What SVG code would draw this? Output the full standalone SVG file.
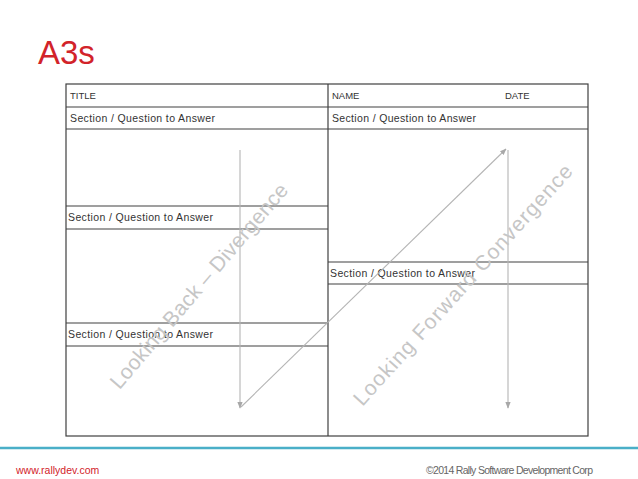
<svg xmlns="http://www.w3.org/2000/svg" width="638" height="479" viewBox="0 0 638 479">
<style>
.frame{fill:none;stroke:#404040;stroke-width:1.2}
.lbl{font-family:"Liberation Sans",Arial,sans-serif;font-size:10.5px;fill:#333}
.cap{font-family:"Liberation Sans",Arial,sans-serif;font-size:9.5px;fill:#333}
.conn{fill:none;stroke:#b4b4b4;stroke-width:1.1}
.rot{font-family:"Liberation Sans",Arial,sans-serif;font-size:21px;fill:#c6c6c6}
</style>
<defs>
<marker id="ah" viewBox="0 0 10 10" refX="9" refY="5" markerWidth="6" markerHeight="6" orient="auto">
<path d="M0,1 L10,5 L0,9 z" fill="#a8a8a8"/>
</marker>
</defs>
<rect width="638" height="479" fill="#ffffff"/>
<text x="38" y="64" font-family="Liberation Sans,Arial,sans-serif" font-size="33" fill="#d2232a">A3s</text>

<g id="sheet">
<rect class="frame" x="66" y="84" width="522" height="352"/>
<line class="frame" x1="328" y1="84" x2="328" y2="436"/>
<line class="frame" x1="66" y1="107" x2="588" y2="107"/>
<line class="frame" x1="66" y1="129" x2="588" y2="129"/>
</g>
<g id="title-row">
<text class="cap" x="70" y="99">TITLE</text>
<text class="cap" x="332" y="99">NAME</text>
<text class="cap" x="505" y="99">DATE</text>
</g>
<g id="section-left-1">
<text class="lbl" x="70" y="122" textLength="145">Section / Question to Answer</text>
</g>
<g id="section-right-1">
<text class="lbl" x="332" y="122" textLength="144">Section / Question to Answer</text>
</g>
<g id="section-left-2">
<line class="frame" x1="66" y1="206" x2="328" y2="206"/>
<line class="frame" x1="66" y1="229" x2="328" y2="229"/>
<text class="lbl" x="68" y="221" textLength="145">Section / Question to Answer</text>
</g>
<g id="section-left-3">
<line class="frame" x1="66" y1="323" x2="328" y2="323"/>
<line class="frame" x1="66" y1="346" x2="328" y2="346"/>
<text class="lbl" x="68" y="338" textLength="145">Section / Question to Answer</text>
</g>
<g id="section-right-2">
<line class="frame" x1="328" y1="262" x2="588" y2="262"/>
<line class="frame" x1="328" y1="284" x2="588" y2="284"/>
<text class="lbl" x="330" y="277" textLength="145">Section / Question to Answer</text>
</g>

<g id="connectors">
<line class="conn" x1="240" y1="150" x2="240" y2="408" marker-end="url(#ah)"/>
<line class="conn" x1="241" y1="407" x2="506" y2="149" marker-end="url(#ah)"/>
<line class="conn" x1="508" y1="150" x2="508" y2="408" marker-end="url(#ah)"/>
</g>
<g id="label-back">
<text class="rot" x="199" y="293" text-anchor="middle" textLength="262" transform="rotate(-49.6 199 286)">Looking Back – Divergence</text>
</g>
<g id="label-forward">
<text class="rot" x="463" y="292" text-anchor="middle" textLength="316" transform="rotate(-48 463 285)">Looking Forward Convergence</text>
</g>

<line x1="0" y1="448" x2="638" y2="448" stroke="#4aafc8" stroke-width="2.5"/>
<text x="16" y="474" font-family="Liberation Sans,Arial,sans-serif" font-size="10.5" fill="#d2232a">www.rallydev.com</text>
<text x="426" y="474" font-family="Liberation Sans,Arial,sans-serif" font-size="10.5" fill="#666" textLength="167">©2014 Rally Software Development Corp</text>
</svg>
